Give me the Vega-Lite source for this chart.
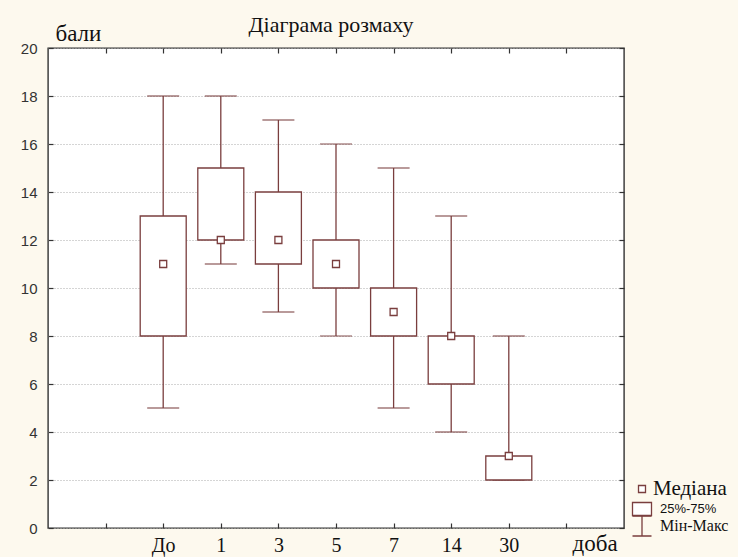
{
  "$schema": "https://vega.github.io/schema/vega-lite/v6.json",
  "width": 576,
  "height": 480,
  "autosize": {"type": "none"},
  "padding": {"left": 48, "top": 48, "right": 114, "bottom": 29},
  "background": "#fdf9ee",
  "title": {
    "text": "Діаграма розмаху",
    "font": "Liberation Serif",
    "fontSize": 22,
    "fontWeight": "normal",
    "color": "#111111",
    "anchor": "middle",
    "baseline": "alphabetic",
    "offset": -7,
    "dy": 25,
    "dx": -5
  },
  "data": {
    "values": [
      {"day": "До", "min": 5, "q1": 8, "median": 11, "q3": 13, "max": 18},
      {"day": "1", "min": 11, "q1": 12, "median": 12, "q3": 15, "max": 18},
      {"day": "3", "min": 9, "q1": 11, "median": 12, "q3": 14, "max": 17},
      {"day": "5", "min": 8, "q1": 10, "median": 11, "q3": 12, "max": 16},
      {"day": "7", "min": 5, "q1": 8, "median": 9, "q3": 10, "max": 15},
      {"day": "14", "min": 4, "q1": 6, "median": 8, "q3": 8, "max": 13},
      {"day": "30", "min": 2, "q1": 2, "median": 3, "q3": 3, "max": 8}
    ]
  },
  "resolve": {
    "axis": {"x": "independent", "y": "independent"},
    "scale": {"stroke": "independent", "shape": "independent"},
    "legend": {"stroke": "independent", "shape": "independent"}
  },
  "layer": [
    {
      "mark": {"type": "rule", "strokeWidth": 1.3},
      "encoding": {
        "x": {
          "field": "day", "type": "ordinal",
          "scale": {"type": "point", "domain": [" ", "До", "1", "3", "5", "7", "14", "30", "  "], "padding": 1},
          "axis": {
            "orient": "bottom", "title": "доба", "labelAngle": 0,
            "labelFont": "Liberation Serif", "labelFontSize": 20, "labelColor": "#111111",
            "labelBaseline": "alphabetic", "labelPadding": 28,
            "tickSize": -5, "tickColor": "#333333", "tickWidth": 1.2,
            "domain": false, "grid": false,
            "titleFont": "Liberation Serif", "titleFontSize": 23, "titleFontWeight": "normal", "titleColor": "#111111",
            "titleAlign": "left", "titleBaseline": "alphabetic", "titleX": 524, "titleY": 22, "titleAnchor": "start"
          }
        },
        "y": {
          "field": "min", "type": "quantitative",
          "scale": {"domain": [0, 20], "nice": false, "zero": false},
          "axis": {
            "orient": "left", "title": "бали", "values": [0, 2, 4, 6, 8, 10, 12, 14, 16, 18, 20],
            "labelFont": "Liberation Sans", "labelFontSize": 15, "labelColor": "#333333",
            "labelPadding": 16, "labelFlush": false,
            "tickSize": -5, "tickColor": "#333333", "tickWidth": 1.2,
            "domain": false, "grid": true, "gridColor": "#aaaaaa", "gridDash": [1, 2], "gridWidth": 1,
            "titleFont": "Liberation Serif", "titleFontSize": 23, "titleFontWeight": "normal", "titleColor": "#111111",
            "titleAngle": 0, "titleAlign": "left", "titleBaseline": "alphabetic", "titleX": 7, "titleY": -8
          }
        },
        "y2": {"field": "max"},
        "stroke": {
          "datum": "Мін-Макс", "type": "nominal",
          "scale": {"domain": ["Мін-Макс"], "range": ["#7a3e3e"]},
          "legend": {
            "title": null, "orient": "none", "legendX": 583, "legendY": 467,
            "padding": 0, "labelOffset": 7, "symbolSize": 400,
            "symbolType": "M-0.95,-1H0.95M0,-1V1M-0.95,1H0.95",
            "symbolFillColor": "transparent", "symbolStrokeWidth": 1.3,
            "labelColor": "#111111", "labelFontSize": 16, "labelFont": "Liberation Serif"
          }
        }
      }
    },
    {
      "mark": {"type": "tick", "color": "#7a3e3e", "size": 32, "thickness": 1.3, "orient": "horizontal"},
      "encoding": {
        "x": {
          "field": "day", "type": "ordinal",
          "axis": {"orient": "top", "title": null, "labels": false, "tickSize": -5, "tickColor": "#333333", "tickWidth": 1.2, "domain": false, "grid": false}
        },
        "y": {
          "field": "min", "type": "quantitative",
          "axis": {"orient": "right", "title": null, "labels": false, "values": [0, 2, 4, 6, 8, 10, 12, 14, 16, 18, 20], "tickSize": -5, "tickColor": "#333333", "tickWidth": 1.2, "domain": false, "grid": false}
        }
      }
    },
    {
      "mark": {"type": "tick", "color": "#7a3e3e", "size": 32, "thickness": 1.3, "orient": "horizontal"},
      "encoding": {
        "x": {"field": "day", "type": "ordinal", "axis": null},
        "y": {"field": "max", "type": "quantitative", "axis": null}
      }
    },
    {
      "mark": {"type": "bar", "width": 46, "fill": "white", "strokeWidth": 1.3},
      "encoding": {
        "x": {"field": "day", "type": "ordinal", "axis": null},
        "y": {"field": "q1", "type": "quantitative", "axis": null},
        "y2": {"field": "q3"},
        "stroke": {
          "datum": "25%-75%", "type": "nominal",
          "scale": {"domain": ["25%-75%"], "range": ["#7a3e3e"]},
          "legend": {
            "title": null, "orient": "none", "legendX": 583, "legendY": 450,
            "padding": 0, "labelOffset": 7, "symbolSize": 400,
            "symbolType": "M-0.95,-0.65H0.95V0.65H-0.95Z",
            "symbolFillColor": "white", "symbolStrokeWidth": 1.3,
            "labelColor": "#111111", "labelFontSize": 13, "labelFont": "Liberation Sans"
          }
        }
      }
    },
    {
      "mark": {"type": "point", "filled": false, "fill": "white", "fillOpacity": 1, "strokeWidth": 1.3, "opacity": 1, "size": 400},
      "encoding": {
        "x": {"field": "day", "type": "ordinal", "axis": null},
        "y": {"field": "median", "type": "quantitative", "axis": null},
        "stroke": {
          "datum": "Медіана", "type": "nominal",
          "scale": {"domain": ["Медіана"], "range": ["#7a3e3e"]},
          "legend": {
            "title": null, "orient": "none", "legendX": 583, "legendY": 430,
            "padding": 0, "labelOffset": 0, "symbolSize": 400,
            "symbolFillColor": "white", "symbolStrokeWidth": 1.3,
            "labelColor": "#111111", "labelFontSize": 21, "labelFont": "Liberation Serif"
          }
        },
        "shape": {
          "datum": "Медіана", "type": "nominal",
          "scale": {"domain": ["Медіана"], "range": ["M-0.35,-0.35H0.35V0.35H-0.35Z"]},
          "legend": {
            "title": null, "orient": "none", "legendX": 583, "legendY": 430,
            "padding": 0, "labelOffset": 0, "symbolSize": 400,
            "symbolFillColor": "white", "symbolStrokeWidth": 1.3,
            "labelColor": "#111111", "labelFontSize": 21, "labelFont": "Liberation Serif"
          }
        }
      }
    }
  ],
  "config": {
    "view": {"stroke": "#333333", "strokeWidth": 1.4, "fill": "white"}
  }
}
